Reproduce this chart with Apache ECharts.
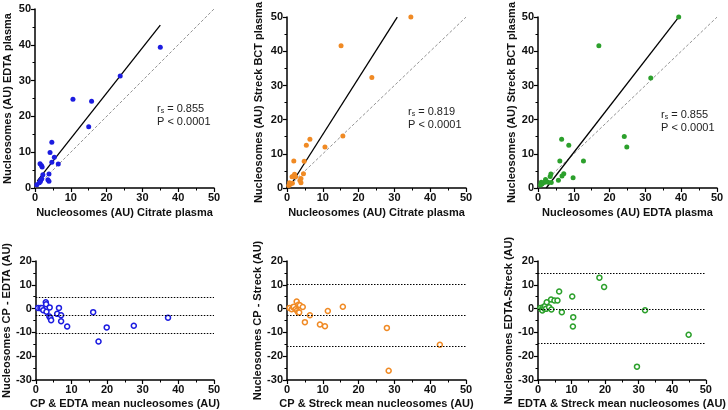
<!DOCTYPE html>
<html>
<head>
<meta charset="utf-8">
<script src="https://cdn.jsdelivr.net/npm/echarts@6/dist/echarts.min.js"></script>
<style>
  html, body { margin: 0; padding: 0; background: #fff; }
  #main { width: 728px; height: 410px; }
</style>
</head>
<body>
<div id="main"></div>
<script>
// top row: method comparison scatter (x, y)
var p1Cit = [0.5, 1.2, 1.5, 1.6, 1.9, 1.4, 1.8, 2.0, 2.2, 3.6, 3.9, 3.9, 4.2, 4.7, 4.7, 5.4, 6.5, 10.6, 15.8, 15.0, 23.8, 35.0];
var p1Edta = [0.9, 1.5, 1.8, 2.2, 2.6, 6.8, 6.3, 5.9, 3.7, 2.3, 1.9, 3.9, 9.9, 12.8, 7.2, 8.6, 6.7, 24.8, 24.2, 17.1, 31.3, 39.3];

var p2Cit = [34.6, 15.1, 23.7, 15.6, 10.6, 6.4, 5.4, 4.8, 4.6, 3.9, 3.9, 3.6, 1.9, 2.1, 1.7, 1.4, 2.4, 0.7, 0.9, 1.5, 0.5];
var p2Streck = [50.0, 41.6, 32.3, 15.2, 12.0, 14.3, 12.5, 7.8, 4.2, 2.8, 1.5, 2.2, 7.9, 4.0, 3.4, 3.3, 3.3, 1.5, 1.1, 1.4, 0.7];

var p3Edta = [39.3, 17.0, 31.5, 24.1, 24.8, 12.7, 6.6, 8.6, 6.1, 7.2, 6.7, 5.7, 9.8, 3.6, 3.4, 3.7, 2.1, 2.3, 0.9, 1.1, 1.7, 0.7, 2.8];
var p3Streck = [50.0, 41.6, 32.2, 15.1, 12.0, 7.9, 14.3, 12.5, 7.9, 4.2, 3.5, 2.3, 3.0, 4.1, 3.4, 1.6, 2.5, 1.9, 1.7, 1.2, 1.6, 0.9, 1.7];

// regression fit lines (end points) and line of identity
var fit1 = [[0.65, 2.0], [35.0, 45.5]];
var fit2 = [[0.5, 0], [30.8, 50]];
var fit3 = [[2.3, 0], [39.3, 50]];
var identity = [[0, 0], [50, 50]];

var rsText = ['0.855', '0.819', '0.855'];
var pText = 'P < 0.0001';

// bottom row: Bland-Altman (mean, difference)
var p4Mean = [0.65, 1.3, 1.7, 2.1, 2.8, 2.9, 3.0, 3.9, 3.8, 4.1, 4.3, 6.0, 6.5, 7.1, 7.1, 8.8, 16.1, 17.6, 19.9, 27.5, 37.1];
var p4Diff = [0.3, 0.2, 0.2, -0.7, 2.7, 1.8, -1.3, 0.5, -3.3, -4.0, -4.9, -2.2, 0.3, -2.8, -5.3, -7.5, -1.5, -13.8, -7.9, -7.2, -3.8];
var p4Lines = [4.7, -2.8, -10.3];

var p5Mean = [0.7, 1.3, 1.7, 1.9, 2.4, 2.7, 2.8, 3.1, 3.2, 3.6, 3.4, 4.4, 5.0, 6.4, 9.2, 10.6, 11.4, 15.6, 27.9, 28.4, 42.7];
var p5Diff = [0.3, -0.3, 0.6, 0.8, -0.3, 3.0, -0.8, -1.5, 1.6, 1.4, -1.6, 0.7, -5.7, -2.8, -6.7, -7.4, -1.0, 0.8, -8.1, -26.1, -15.2];
var p5Lines = [10.2, -2.9, -16.0];

var p6Mean = [0.7, 1.1, 1.3, 1.6, 1.9, 2.1, 2.4, 2.6, 3.3, 4.0, 3.9, 4.9, 5.8, 6.3, 7.1, 10.2, 10.5, 10.4, 18.3, 19.7, 29.5, 31.9, 44.9];
var p6Diff = [0.2, -0.4, -0.8, 0.7, 0, 1.1, -0.1, 2.7, 0.6, -0.4, 3.8, 3.4, 3.4, 7.2, -1.5, 5.1, -3.6, -7.5, 13.0, 9.1, -24.4, -0.7, -11.0];
var p6Lines = [14.7, -0.1, -14.6];

var xTitles = ['Nucleosomes (AU) Citrate plasma', 'Nucleosomes (AU) Citrate plasma', 'Nucleosomes (AU) EDTA plasma',
  'CP & EDTA mean nucleosomes (AU)', 'CP & Streck mean nucleosomes (AU)', 'EDTA & Streck mean nucleosomes (AU)'];
var yTitles = ['Nucleosomes (AU) EDTA plasma', 'Nucleosomes (AU) Streck BCT plasma', 'Nucleosomes (AU) Streck BCT plasma',
  'Nucleosomes CP - EDTA (AU)', 'Nucleosomes CP - Streck (AU)', 'Nucleosomes EDTA-Streck (AU)'];

var colors = ['#1c1ce0', '#f08a24', '#2ca02c'];
var FONT = '"Liberation Sans", Arial, sans-serif';

function zip(a, b) {
  return a.map(function (v, i) { return [v, b[i]]; });
}

var lefts = [35, 287, 538];
var grids = [], xAxes = [], yAxes = [], series = [], graphics = [];
var yGaps = [22, 23, 21, 22, 22, 20];

for (var i = 0; i < 6; i++) {
  var isTop = i < 3;
  grids.push({ left: lefts[i % 3], width: 179, top: isTop ? 9 : 261, height: isTop ? 179 : 119 });
  var axisCommon = {
    gridIndex: i,
    nameLocation: 'middle',
    nameTextStyle: { fontFamily: FONT, fontWeight: 'bold', fontSize: 11, color: '#111' },
    axisLine: { onZero: false, lineStyle: { color: '#000', width: 1.5 } },
    axisTick: { show: true, inside: false, length: 4, lineStyle: { color: '#000', width: 1.2 } },
    minorTick: { show: true, splitNumber: 2, length: 2.5, lineStyle: { color: '#000', width: 1 } },
    axisLabel: { fontFamily: FONT, fontWeight: 'bold', fontSize: 11, color: '#111', margin: 4 },
    splitLine: { show: false }
  };
  xAxes.push(Object.assign({}, axisCommon, {
    type: 'value', min: 0, max: 50, interval: 10,
    name: xTitles[i], nameGap: isTop ? 19 : 18
  }));
  yAxes.push(Object.assign({}, axisCommon, {
    type: 'value', min: isTop ? 0 : -30, max: isTop ? 50 : 20, interval: 10,
    name: yTitles[i], nameGap: yGaps[i], nameRotate: 90
  }));
}

var topX = [p1Cit, p2Cit, p3Edta], topY = [p1Edta, p2Streck, p3Streck];
var fits = [fit1, fit2, fit3];
for (var k = 0; k < 3; k++) {
  series.push({
    type: 'line', xAxisIndex: k, yAxisIndex: k, data: identity, symbol: 'none', silent: true,
    lineStyle: { color: '#777', width: 0.8, type: [3, 2] }, z: 1
  });
  series.push({
    type: 'line', xAxisIndex: k, yAxisIndex: k, data: fits[k], symbol: 'none', silent: true,
    lineStyle: { color: '#000', width: 1.3 }, z: 2
  });
  series.push({
    type: 'scatter', xAxisIndex: k, yAxisIndex: k, data: zip(topX[k], topY[k]),
    symbolSize: 5, clip: false, itemStyle: { color: colors[k], opacity: 1 }, z: 3
  });
}

var baMean = [p4Mean, p5Mean, p6Mean], baDiff = [p4Diff, p5Diff, p6Diff];
var baLines = [p4Lines, p5Lines, p6Lines];
for (var m = 0; m < 3; m++) {
  series.push({
    type: 'scatter', xAxisIndex: m + 3, yAxisIndex: m + 3, data: zip(baMean[m], baDiff[m]),
    symbol: 'circle', symbolSize: 5,
    itemStyle: { color: '#fff', borderColor: colors[m], borderWidth: 1.5, opacity: 1 },
    markLine: {
      silent: true, symbol: 'none', label: { show: false },
      lineStyle: { color: '#000', type: [1.5, 1.5], width: 1 },
      data: baLines[m].map(function (v) { return { yAxis: v }; })
    }
  });
}

// r_s / P annotations
var annPos = [[157, 103], [408, 106], [661, 109]];
for (var n = 0; n < 3; n++) {
  graphics.push({
    type: 'text', left: annPos[n][0], top: annPos[n][1],
    style: {
      text: '{a|r}{s|s}{a| = ' + rsText[n] + '}\n{a|' + pText + '}',
      rich: {
        a: { fontFamily: FONT, fontSize: 11, fill: '#222', lineHeight: 13 },
        s: { fontFamily: FONT, fontSize: 7, fill: '#222', lineHeight: 13, padding: [5, 0, 0, 0] }
      }
    }
  });
}

var chart = echarts.init(document.getElementById('main'), null, { renderer: 'canvas' });
chart.setOption({
  animation: false,
  backgroundColor: '#fff',
  grid: grids,
  xAxis: xAxes,
  yAxis: yAxes,
  series: series,
  graphic: graphics
});
</script>
</body>
</html>
